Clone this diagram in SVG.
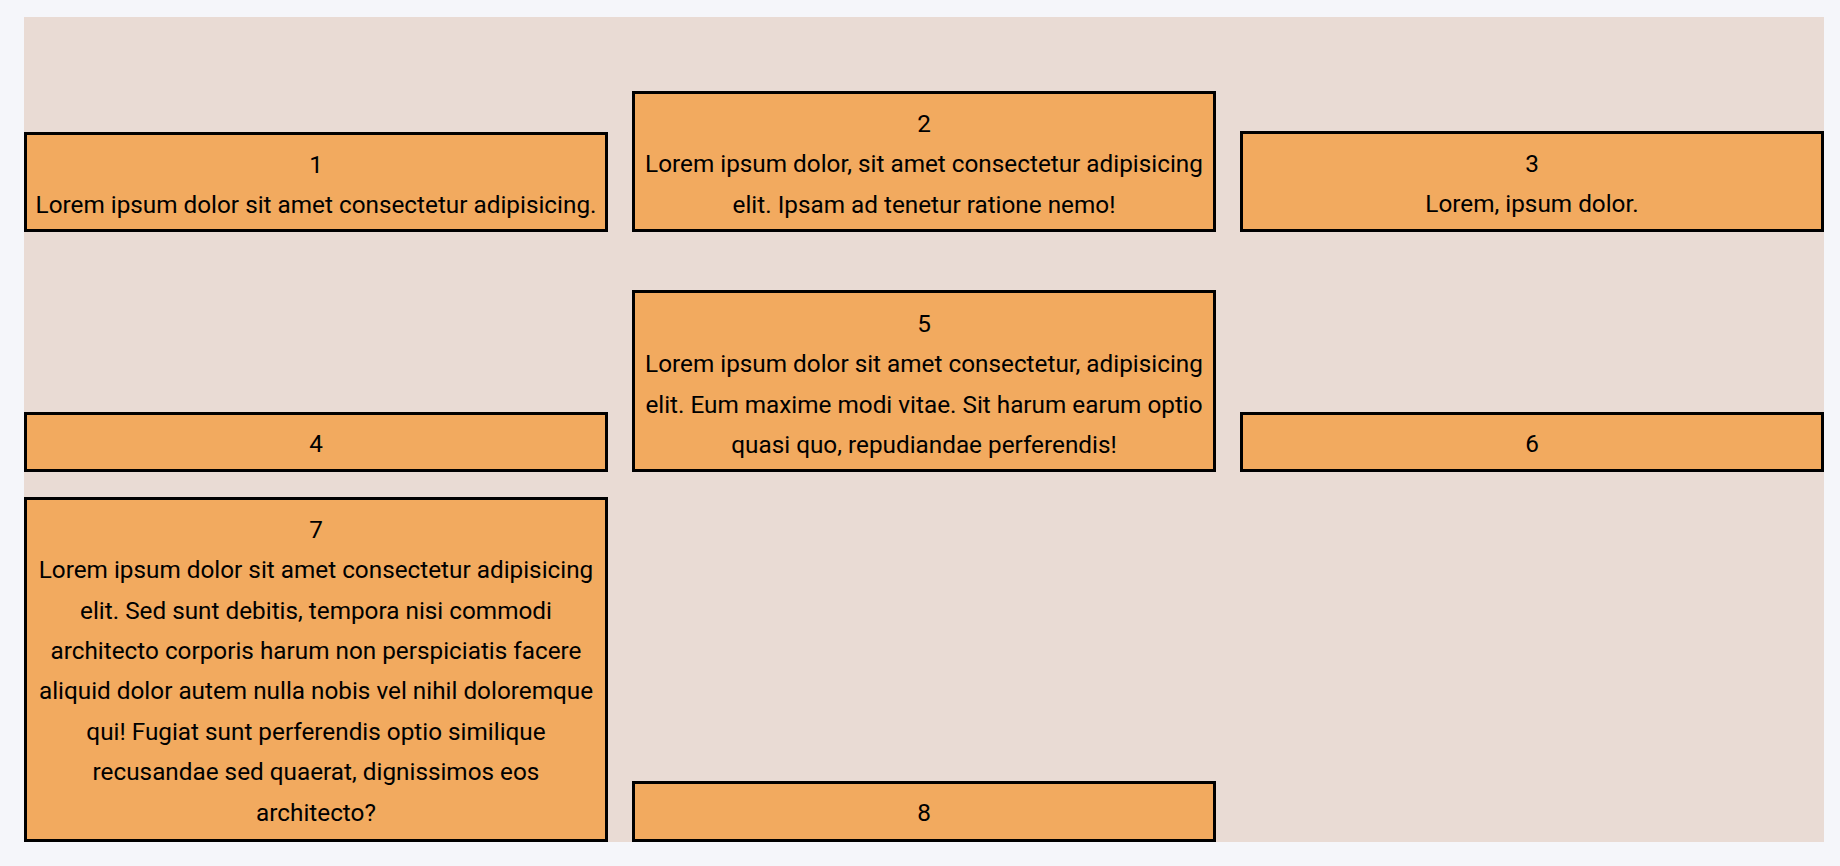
<svg xmlns="http://www.w3.org/2000/svg" width="1840" height="866" viewBox="0 0 1840 866">
<style>
.box{fill:#f2aa5f;stroke:#000;stroke-width:3}
.t{font-family:Roboto,"Liberation Sans",sans-serif;font-size:24.3px;fill:#000;text-anchor:middle}
</style>
<rect x="0" y="0" width="1840" height="866" fill="#f5f6fa"/>
<rect x="24" y="17" width="1800" height="825" fill="#e9dbd4"/>
<g id="node1">
<rect class="box" x="25.5" y="133.5" width="581" height="97"/>
<text class="t" x="316" y="172.8">1</text>
<text class="t" x="316" y="213.2">Lorem ipsum dolor sit amet consectetur adipisicing.</text>
</g>
<g id="node2">
<rect class="box" x="633.5" y="92.5" width="581" height="138"/>
<text class="t" x="924" y="131.8">2</text>
<text class="t" x="924" y="172.2">Lorem ipsum dolor, sit amet consectetur adipisicing</text>
<text class="t" x="924" y="212.6">elit. Ipsam ad tenetur ratione nemo!</text>
</g>
<g id="node3">
<rect class="box" x="1241.5" y="132.5" width="581" height="98"/>
<text class="t" x="1532" y="171.8">3</text>
<text class="t" x="1532" y="212.2">Lorem, ipsum dolor.</text>
</g>
<g id="node4">
<rect class="box" x="25.5" y="413.5" width="581" height="57"/>
<text class="t" x="316" y="451.8">4</text>
</g>
<g id="node5">
<rect class="box" x="633.5" y="291.5" width="581" height="179"/>
<text class="t" x="924" y="331.8">5</text>
<text class="t" x="924" y="372.2">Lorem ipsum dolor sit amet consectetur, adipisicing</text>
<text class="t" x="924" y="412.6">elit. Eum maxime modi vitae. Sit harum earum optio</text>
<text class="t" x="924" y="453">quasi quo, repudiandae perferendis!</text>
</g>
<g id="node6">
<rect class="box" x="1241.5" y="413.5" width="581" height="57"/>
<text class="t" x="1532" y="451.8">6</text>
</g>
<g id="node7">
<rect class="box" x="25.5" y="498.5" width="581" height="342"/>
<text class="t" x="316" y="537.8">7</text>
<text class="t" x="316" y="578.2">Lorem ipsum dolor sit amet consectetur adipisicing</text>
<text class="t" x="316" y="618.6">elit. Sed sunt debitis, tempora nisi commodi</text>
<text class="t" x="316" y="659">architecto corporis harum non perspiciatis facere</text>
<text class="t" x="316" y="699.4">aliquid dolor autem nulla nobis vel nihil doloremque</text>
<text class="t" x="316" y="739.8">qui! Fugiat sunt perferendis optio similique</text>
<text class="t" x="316" y="780.2">recusandae sed quaerat, dignissimos eos</text>
<text class="t" x="316" y="820.6">architecto?</text>
</g>
<g id="node8">
<rect class="box" x="633.5" y="782.5" width="581" height="58"/>
<text class="t" x="924" y="821.3">8</text>
</g>
<g id="connectors"></g>
</svg>
